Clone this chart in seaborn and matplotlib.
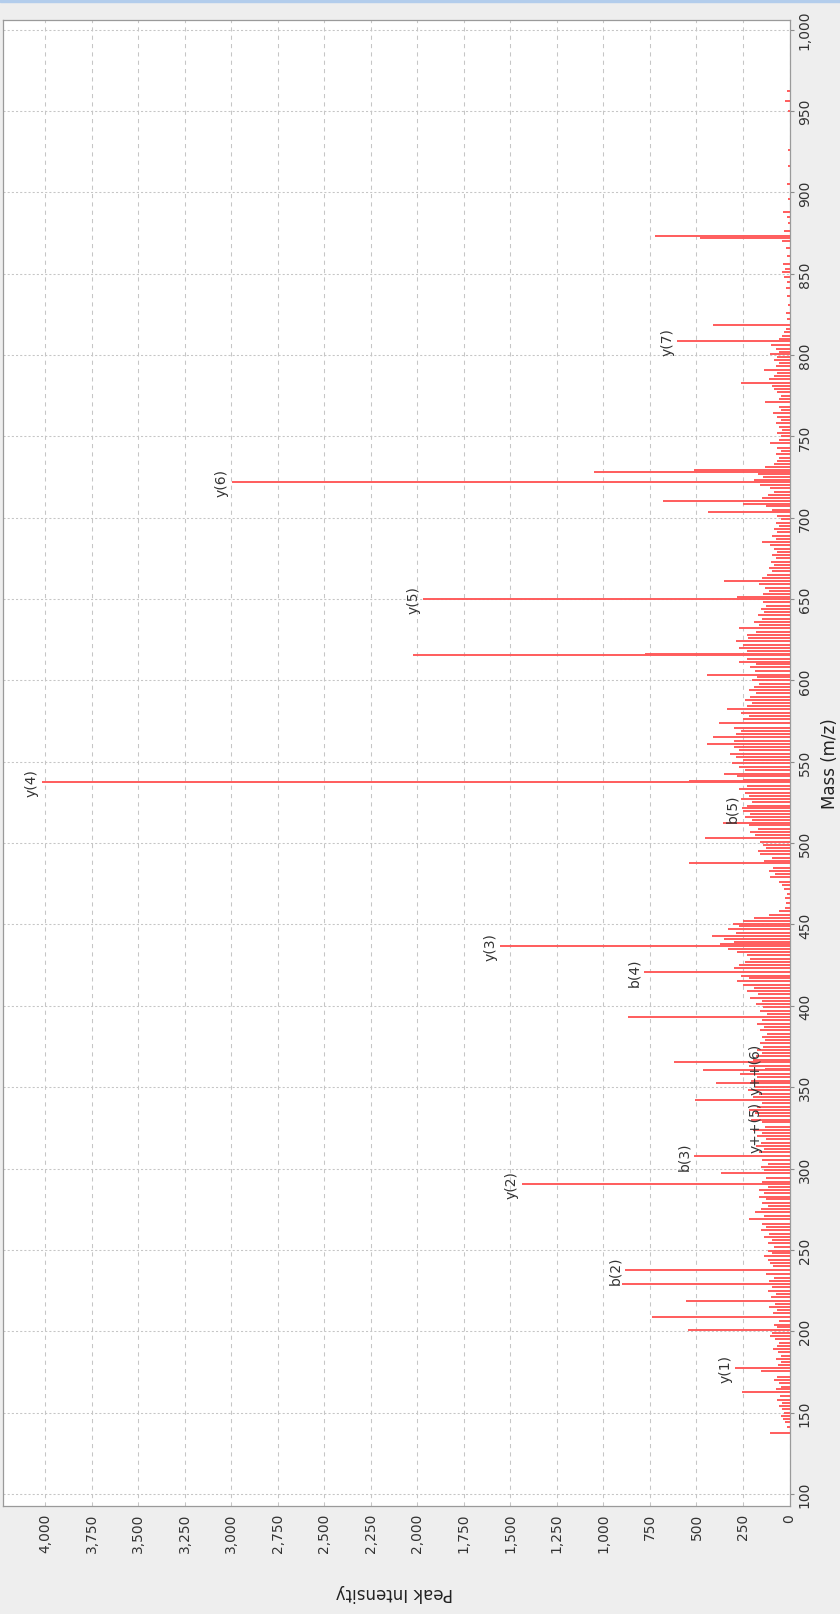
import matplotlib
matplotlib.use("Agg")
import matplotlib.pyplot as plt
import seaborn as sns
from matplotlib.patches import Rectangle
from matplotlib.ticker import FuncFormatter, FixedLocator

# annotated fragment ions
ion_labels = ["y(1)", "b(2)", "y(2)", "b(3)", "y++(5)", "y++(6)", "b(4)",
              "y(3)", "b(5)", "y(4)", "y(5)", "y(6)", "y(7)"]
ion_mz = [177.3, 237.7, 290.4, 307.8, 325.7, 361.4, 420.7,
          437.0, 521.5, 537.7, 650.3, 721.7, 808.6]
ion_int = [293, 884, 1440, 511, 130, 130, 782,
           1556, 255, 4019, 1968, 2998, 603]

# all other peaks (m/z, intensity)
peak_mz = [
    137.2, 141, 144, 146, 148, 150, 152, 154, 156, 158, 160, 162.7, 164.5, 166, 168, 170, 172, 175.3,
    179, 181, 183, 185, 187, 189, 191, 193, 195, 197, 199, 200.8, 202.5, 204, 206, 209.0, 211, 213,
    215, 217, 218.8, 221, 223, 225, 227, 229.1, 231, 233, 235, 240, 242, 244, 246, 248, 249.5, 252,
    254, 256, 258, 260, 262, 264, 266, 268.7, 271, 273.4, 275, 277, 279, 281, 282.7, 285, 287, 288.5,
    292, 294, 297, 299, 301, 303, 305, 310, 312, 314, 316, 318, 320, 322, 324, 328.7, 330, 332, 334,
    336, 338, 340, 342, 344, 346, 348, 350, 352.3, 354, 356, 358, 360.5, 363, 365.6, 367, 369, 371,
    373, 375, 377, 379, 381, 383, 385, 387, 389, 391, 393, 395, 397, 399, 401, 403, 405, 407, 409,
    411, 413, 415, 417, 418.5, 423, 425, 427, 429, 431, 433, 435, 438, 439.5, 441, 443, 445, 447,
    449, 450.5, 452, 454, 456, 458, 460, 463, 466, 469, 472, 474, 476, 479, 481, 483, 485, 487.5,
    489, 491, 493.3, 495, 497, 499, 501, 503.4, 505, 507, 509, 511, 512.6, 514, 516, 518, 520, 523,
    525, 527, 529, 531, 533, 535, 538.4, 539, 541, 542.7, 545, 547, 549, 551, 553, 555, 557, 559,
    560.7, 563, 565.2, 567, 569, 571, 574, 576, 578, 580, 582.2, 584, 586, 588, 590, 592, 594, 596,
    598, 600, 602, 603.6, 606, 608, 610, 611.4, 613, 615.6, 616.3, 618, 620, 622, 624, 626.2, 628,
    630, 632.3, 634, 636, 638, 640, 642, 644, 646, 648, 651, 653, 655, 657, 659, 661.3, 663, 665,
    667, 669, 671, 673, 675, 677, 679, 681, 683, 685, 687, 689, 691, 693, 695, 697, 699, 701, 703.3,
    705, 707, 708.5, 710.4, 712, 714, 716, 718, 720, 723, 725, 727, 728.2, 729.4, 731, 733, 735,
    737, 739, 741, 743, 745.8, 748, 750, 752, 754, 756, 758, 760, 762, 764.2, 766, 768, 771.4, 773,
    775, 777, 779, 781, 782.6, 785, 787, 789, 790.8, 793, 795, 797, 799, 800.5, 802, 804, 806, 810,
    812, 814, 816, 818.4, 822, 826, 831, 836, 841, 845, 848, 851, 853, 856, 861, 866, 870, 871.8,
    873, 876, 881, 885, 888, 896, 905, 916, 926, 950, 956, 962,
]
peak_int = [
    105, 15, 22, 35, 48, 28, 40, 58, 42, 66, 52, 257, 70, 45, 55, 82, 68, 153,
    62, 48, 74, 44, 60, 88, 66, 55, 78, 105, 92, 547, 66, 84, 58, 741, 88, 68,
    108, 78, 556, 98, 72, 118, 92, 899, 108, 82, 126, 88, 106, 118, 138, 96, 114, 84,
    118, 92, 136, 108, 155, 126, 146, 216, 136, 185, 155, 118, 148, 126, 162, 136, 165, 118,
    146, 128, 370, 136, 155, 118, 148, 165, 136, 182, 155, 126, 176, 146, 196, 146, 205, 166, 186,
    215, 176, 146, 508, 196, 166, 225, 186, 395, 205, 176, 265, 463, 215, 621, 196, 180, 150,
    172, 140, 160, 130, 150, 120, 160, 135, 175, 150, 866, 122, 160, 140, 180, 150, 212, 170, 230,
    190, 250, 283, 220, 260, 300, 270, 240, 210, 230, 280, 330, 373, 300, 350, 414, 290, 330,
    270, 302, 250, 190, 110, 55, 25, 18, 22, 14, 28, 40, 58, 105, 78, 112, 86, 538,
    135, 96, 158, 170, 125, 140, 160, 454, 185, 210, 170, 220, 359, 200, 240, 210, 250, 230,
    200, 260, 220, 240, 270, 230, 540, 250, 280, 352, 240, 270, 310, 250, 290, 320, 270, 300,
    445, 300, 413, 290, 260, 300, 377, 250, 220, 260, 338, 230, 200, 240, 210, 180, 220, 190,
    165, 200, 175, 445, 185, 210, 180, 270, 230, 2022, 777, 230, 270, 250, 285, 221, 230,
    180, 270, 165, 190, 150, 170, 135, 155, 125, 145, 280, 140, 110, 130, 165, 350, 150, 120,
    95, 110, 85, 100, 75, 95, 65, 85, 105, 150, 75, 95, 65, 85, 55, 75, 48, 65, 440,
    95, 125, 250, 678, 150, 115, 85, 105, 160, 190, 140, 170, 1050, 511, 130, 85, 65,
    55, 75, 48, 65, 105, 55, 45, 65, 38, 55, 75, 45, 65, 87, 45, 55, 131, 55,
    45, 65, 85, 95, 262, 110, 85, 65, 135, 75, 55, 85, 65, 105, 55, 75, 100, 55,
    38, 28, 18, 409, 14, 18, 10, 14, 18, 14, 28, 42, 24, 36, 14, 18, 38, 480,
    723, 28, 10, 14, 33, 10, 12, 10, 8, 10, 25, 12,
]

mass_ticks = list(range(100, 1001, 50))
intensity_ticks = list(range(0, 4001, 250))

sns.set_theme(style="whitegrid")
plt.rcParams['font.family'] = ['DejaVu Sans']

fig = plt.figure(figsize=(8.4, 16.15), dpi=100, facecolor='#eeeeee')
fig.add_artist(Rectangle((0, 1 - 3 / 1615), 1, 3 / 1615, transform=fig.transFigure,
                         color='#b3cdec', zorder=5))
ax = fig.add_axes([3 / 840, 108 / 1615, 786.5 / 840, 1486.3 / 1615])
ax.set_facecolor('white')

# spectrum drawn sideways: intensity runs right-to-left, mass runs upward
ax.hlines(peak_mz + ion_mz, 0, peak_int + ion_int, color='#ff5c5c', lw=1.4, zorder=3)

for lab, mz, inten in zip(ion_labels, ion_mz, ion_int):
    ax.annotate(lab, xy=(inten, mz), xytext=(-2, 0), textcoords='offset points',
                rotation=90, ha='right', va='center', fontsize=10, color='#333333', zorder=4)

ax.set_xlim(4227, 0)
ax.set_ylim(92.6, 1006.1)
ax.xaxis.set_major_locator(FixedLocator(intensity_ticks))
ax.yaxis.set_major_locator(FixedLocator(mass_ticks))
comma = FuncFormatter(lambda v, p: f"{v:,.0f}")
ax.xaxis.set_major_formatter(comma)
ax.yaxis.set_major_formatter(comma)
ax.yaxis.tick_right()

ax.grid(False)
ax.grid(axis='x', color='#c6c6c6', lw=0.75, linestyle=(0, (4, 4)))
ax.grid(axis='y', color='#c6c6c6', lw=0.75, linestyle=(0, (2, 2)))
ax.set_axisbelow(True)

for side in ['left', 'top', 'bottom', 'right']:
    ax.spines[side].set_color('#9a9a9a')
    ax.spines[side].set_linewidth(0.9)

ax.tick_params(axis='both', which='major', length=3, width=0.8, color='#8c8c8c',
               labelsize=10, labelcolor='#333333', direction='out')
ax.tick_params(axis='x', labelrotation=90, pad=2)
ax.tick_params(axis='y', labelrotation=90, pad=3, right=True, left=False)
for lbl in ax.get_yticklabels():
    lbl.set_va('center')

ax.set_xlabel("Peak Intensity", rotation=180, fontsize=12, color='#222222', va='center')
ax.xaxis.set_label_coords(0.497, -0.058)
ax.yaxis.set_label_position('right')
ax.set_ylabel("Mass (m/z)", rotation=90, fontsize=12, color='#222222', va='center', ha='center')
ax.yaxis.set_label_coords(1.0515, 0.5)

fig.savefig("out.png", dpi=100, facecolor=fig.get_facecolor())
